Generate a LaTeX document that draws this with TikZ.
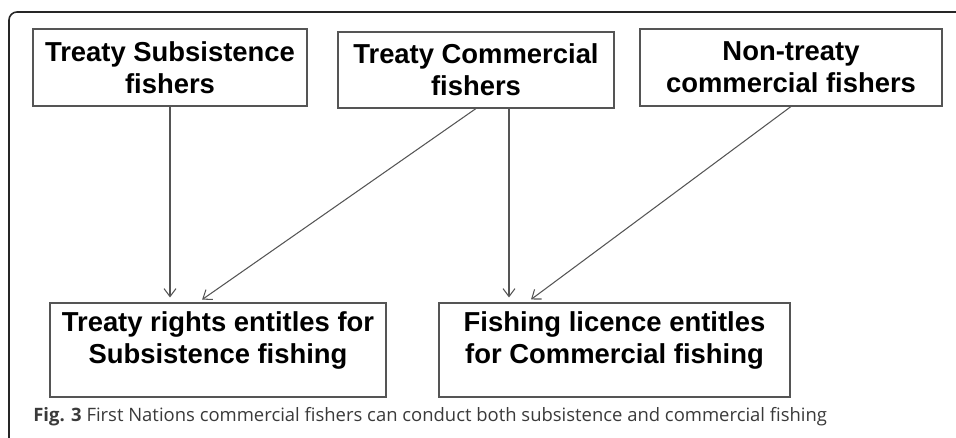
\documentclass[tikz,border=0pt]{standalone}
\usepackage{fontspec}
\setmainfont{Liberation Sans}
\newfontfamily\capfont{Open Sans}
\usetikzlibrary{arrows.meta}

\definecolor{BOXC}{HTML}{555555}
\definecolor{CAPC}{HTML}{3A3A3A}

\tikzset{
    box/.style={draw=BOXC, line width=0.6pt, inner sep=0pt, align=center,
        font=\bfseries\fontsize{15.6pt}{18.2pt}\selectfont},
    arr/.style={draw=BOXC, line width=0.6pt, shorten >=0.1cm,
        -{Straight Barb[length=1.6mm,width=2.4mm]}}
}

\begin{document}
\begin{tikzpicture}
            \useasboundingbox (0,0) rectangle (19.12,8.76);

            % frame round the figure
            \draw[black!85, line width=0.9pt, rounded corners=0.16cm] (0.18,0) |- (19.12,8.52);

            % who fishes
            \node[box, minimum width=5.48cm, minimum height=1.54cm] (subfish) at (3.40,7.41) {Treaty Subsistence\\fishers};
            \node[box, minimum width=5.52cm, minimum height=1.52cm] (comfish) at (9.52,7.36) {Treaty Commercial\\fishers};
            \node[box, minimum width=6.04cm, minimum height=1.54cm] (nontreaty) at (15.82,7.41) {Non-treaty\\commercial fishers};

            % what they may do
            \node[box, minimum width=6.72cm, minimum height=1.88cm, text depth=0.5cm] (rights) at (4.36,1.76) {Treaty rights entitles for\\Subsistence fishing};
            \node[box, minimum width=7.02cm, minimum height=1.88cm, text depth=0.5cm] (licence) at (12.29,1.76) {Fishing licence entitles\\for Commercial fishing};

            \draw[arr] (subfish.south) -- (subfish.south |- rights.north);
            \draw[arr] (comfish.south) -- ([xshift=-0.4cm]rights.north);
            \draw[arr] ([xshift=0.66cm]comfish.south) -- ([xshift=0.66cm]comfish.south |- licence.north);
            \draw[arr] (nontreaty.south) -- ([xshift=-1.75cm]licence.north);

            \node[anchor=base west, inner sep=0pt, text=CAPC, font=\capfont\fontsize{10.5pt}{12pt}\selectfont] (caption) at (0.66,0.32) {\textbf{Fig. 3} First Nations commercial fishers can conduct both subsistence and commercial fishing};
        \end{tikzpicture}
\end{document}
